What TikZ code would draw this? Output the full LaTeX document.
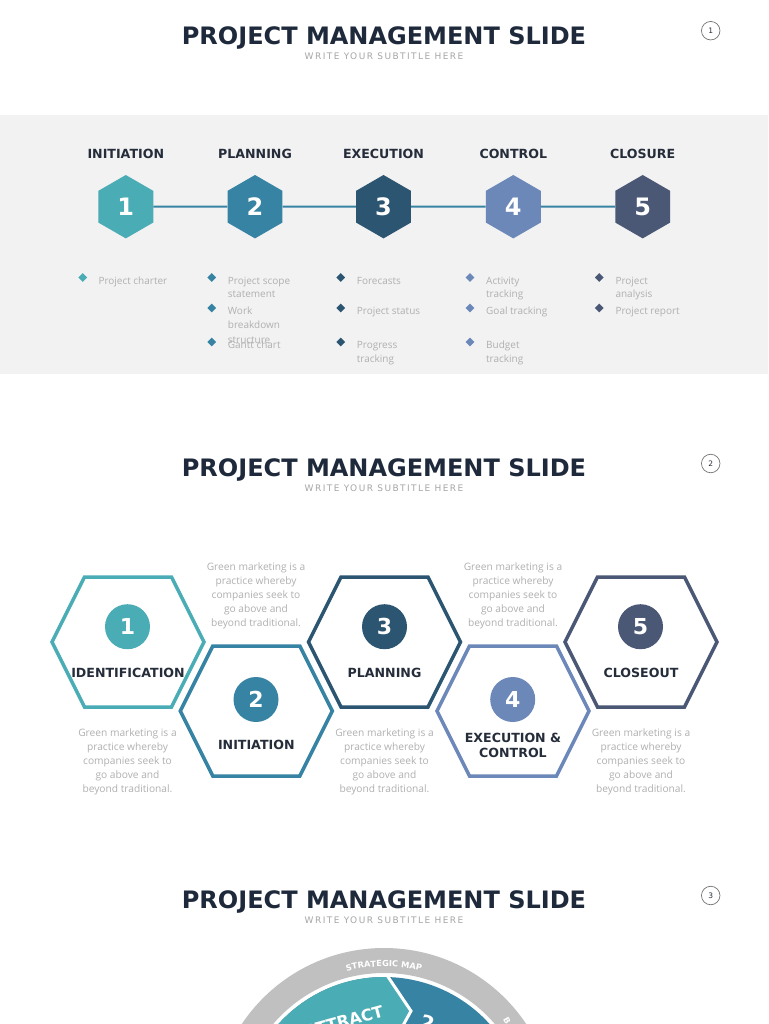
\documentclass[tikz,border=0pt]{standalone}
\usepackage{fontspec}
\setmainfont{DejaVu Sans}
\newfontfamily\opensans{Open Sans}
\newfontfamily\subfont[LetterSpace=16]{DejaVu Sans}
\usetikzlibrary{shapes.geometric,decorations.text}
\definecolor{cA}{HTML}{4AACB4}
\definecolor{cB}{HTML}{3783A3}
\definecolor{cC}{HTML}{2B5571}
\definecolor{cD}{HTML}{6B88B9}
\definecolor{cE}{HTML}{4A5775}
\definecolor{navy}{HTML}{1E2A3B}
\definecolor{labdark}{HTML}{252D3A}
\definecolor{greytxt}{HTML}{B0B0B0}
\definecolor{subgrey}{HTML}{A6A6A6}
\definecolor{bandgrey}{HTML}{F2F2F2}
\definecolor{ringgrey}{HTML}{C0C0C0}
\newcommand\hexpath[2]{({#1-76},#2) -- ({#1-43.5},{#2-65}) -- ({#1+43.5},{#2-65}) -- ({#1+76},#2) -- ({#1+43.5},{#2+65}) -- ({#1-43.5},{#2+65}) -- cycle}
\tikzset{
 title/.style={font=\bfseries\fontsize{24}{28}\selectfont, text=navy, inner sep=0pt},
 subtitle/.style={font=\subfont\fontsize{9}{11}\selectfont, text=subgrey, inner sep=0pt},
 pagenum/.style={circle, draw=black!55, line width=0.7pt, minimum size=18.5pt, inner sep=0pt, font=\fontsize{7.5}{9}\selectfont, text=labdark},
 stagelab/.style={font=\bfseries\fontsize{12.6}{15}\selectfont, text=labdark, inner sep=0pt},
 hexfill/.style={regular polygon, regular polygon sides=6, shape border rotate=30, minimum size=63.4pt, inner sep=0pt, text=white, font=\bfseries\fontsize{24}{28}\selectfont},
 link/.style={cB, line width=2pt},
 bul/.style={diamond, inner sep=0pt, minimum width=9pt, minimum height=9pt},
 btxt/.style={anchor=west, inner sep=0pt, text=greytxt, font=\opensans\fontsize{10}{12}\selectfont, text height=7pt, text depth=2pt},
 hexo/.style={line width=3.5pt, line join=miter},
 numcirc/.style={circle, minimum size=45pt, inner sep=0pt, text=white, font=\bfseries\fontsize{22}{26}\selectfont},
 para/.style={align=center, inner sep=0pt, text=greytxt, font=\opensans\fontsize{10.2}{14}\selectfont},
 hexlab/.style={align=center, inner sep=0pt, text=labdark, font=\bfseries\fontsize{12.6}{15}\selectfont},
}
\begin{document}
\begin{tikzpicture}[x=1pt,y=-1pt]
\clip (0,0) rectangle (768,1024);
\fill[white] (0,0) rectangle (768,1024);
% ================= slide 1
\node[title] (t1) at (384,37.5) {PROJECT MANAGEMENT SLIDE};
\node[subtitle] (s1) at (384,56.5) {WRITE YOUR SUBTITLE HERE};
\node[pagenum] (p1) at (710.7,30.7) {1};
\fill[bandgrey] (0,115) rectangle (768,373.5);
\node[stagelab] (l1) at (125.8,154) {INITIATION};
\node[stagelab] (l2) at (255,154) {PLANNING};
\node[stagelab] (l3) at (383.5,154) {EXECUTION};
\node[stagelab] (l4) at (513.3,154) {CONTROL};
\node[stagelab] (l5) at (642.7,154) {CLOSURE};
\node[hexfill, fill=cA] (h1) at (125.8,206.7) {1};
\node[hexfill, fill=cB] (h2) at (255,206.7) {2};
\node[hexfill, fill=cC] (h3) at (383.5,206.7) {3};
\node[hexfill, fill=cD] (h4) at (513.3,206.7) {4};
\node[hexfill, fill=cE] (h5) at (642.7,206.7) {5};
\draw[link] (h1) -- (h2);
\draw[link] (h2) -- (h3);
\draw[link] (h3) -- (h4);
\draw[link] (h4) -- (h5);
% bullets column 1
\node[bul, fill=cA] (d11) at (82.7,277.5) {};
\node[btxt] (b11) at (98.3,282) {Project charter};
% column 2
\node[bul, fill=cB] (d21) at (211.7,277.5) {};
\node[btxt] (b21) at (227.7,282) {Project scope};
\node[btxt] (b21b) at (227.7,295) {statement};
\node[bul, fill=cB] (d22) at (211.7,308) {};
\node[btxt] (b22) at (227.7,312.3) {Work};
\node[btxt] (b22b) at (227.7,326.3) {breakdown};
\node[btxt] (b22c) at (227.7,340.5) {structure};
\node[bul, fill=cB] (d23) at (211.7,342) {};
\node[btxt] (b23) at (227.7,346.3) {Gantt chart};
% column 3
\node[bul, fill=cC] (d31) at (340.7,277.5) {};
\node[btxt] (b31) at (356.7,282) {Forecasts};
\node[bul, fill=cC] (d32) at (340.7,308) {};
\node[btxt] (b32) at (356.7,312.3) {Project status};
\node[bul, fill=cC] (d33) at (340.7,342) {};
\node[btxt] (b33) at (356.7,346.3) {Progress};
\node[btxt] (b33b) at (356.7,359.7) {tracking};
% column 4
\node[bul, fill=cD] (d41) at (470,277.5) {};
\node[btxt] (b41) at (486,282) {Activity};
\node[btxt] (b41b) at (486,295) {tracking};
\node[bul, fill=cD] (d42) at (470,308) {};
\node[btxt] (b42) at (486,312.3) {Goal tracking};
\node[bul, fill=cD] (d43) at (470,342) {};
\node[btxt] (b43) at (486,346.3) {Budget};
\node[btxt] (b43b) at (486,359.7) {tracking};
% column 5
\node[bul, fill=cE] (d51) at (599.3,277.5) {};
\node[btxt] (b51) at (615.3,282) {Project};
\node[btxt] (b51b) at (615.3,295) {analysis};
\node[bul, fill=cE] (d52) at (599.3,308) {};
\node[btxt] (b52) at (615.3,312.3) {Project report};
% ================= slide 2
\node[title] (t2) at (384,469.5) {PROJECT MANAGEMENT SLIDE};
\node[subtitle] (s2) at (384,488.5) {WRITE YOUR SUBTITLE HERE};
\node[pagenum] (p2) at (710.7,463.5) {2};
\draw[hexo, cA] \hexpath{128}{642};
\draw[hexo, cB] \hexpath{256.3}{711};
\draw[hexo, cC] \hexpath{384.5}{642};
\draw[hexo, cD] \hexpath{513}{711};
\draw[hexo, cE] \hexpath{641}{642};
\node[numcirc, fill=cA] (n1) at (127.5,626.7) {1};
\node[numcirc, fill=cB] (n2) at (256,699.5) {2};
\node[numcirc, fill=cC] (n3) at (384.5,626.7) {3};
\node[numcirc, fill=cD] (n4) at (512.7,699.5) {4};
\node[numcirc, fill=cE] (n5) at (640.5,626.7) {5};
\node[hexlab] (k1) at (128,672.5) {IDENTIFICATION};
\node[hexlab] (k2) at (256.3,744.5) {INITIATION};
\node[hexlab] (k3) at (384.5,672.5) {PLANNING};
\node[hexlab] (k4) at (513,745) {EXECUTION \&\\CONTROL};
\node[hexlab] (k5) at (641,672.5) {CLOSEOUT};
\node[para] (q2) at (256,595.8) {Green marketing is a\\practice whereby\\companies seek to\\go above and\\beyond traditional.};
\node[para] (q4) at (513,595.8) {Green marketing is a\\practice whereby\\companies seek to\\go above and\\beyond traditional.};
\node[para] (q1) at (127.5,762.2) {Green marketing is a\\practice whereby\\companies seek to\\go above and\\beyond traditional.};
\node[para] (q3) at (384.5,762.2) {Green marketing is a\\practice whereby\\companies seek to\\go above and\\beyond traditional.};
\node[para] (q5) at (641,762.2) {Green marketing is a\\practice whereby\\companies seek to\\go above and\\beyond traditional.};
% ================= slide 3
\node[title] (t3) at (384,901.5) {PROJECT MANAGEMENT SLIDE};
\node[subtitle] (s3) at (384,920.5) {WRITE YOUR SUBTITLE HERE};
\node[pagenum] (p3) at (710.7,895.5) {3};
\begin{scope}[shift={(384,1119)}, y=1pt]
  \fill[ringgrey, even odd rule] (0,0) circle[radius=171] (0,0) circle[radius=146];
  \begin{scope}
    \clip (0,0) circle[radius=142];
    \fill[cB] (-150,-150) rectangle (150,150);
    \fill[cA] (-14,169) -- (27,108) -- (11,79) -- (-200,79) -- (-200,169) -- cycle;
    \draw[white, line width=3pt, line join=miter] (-14,169) -- (27,108) -- (11,79);
  \end{scope}
  \path[decorate, decoration={text along path, text={|\bfseries\fontsize{8.3}{10}\selectfont|STRATEGIC MAP}, text align=center, text color=white}]
    (114:152.5) arc[start angle=114, end angle=66, radius=152.5];
\end{scope}
\node[inner sep=0pt, text=white, font=\bfseries\fontsize{16}{19}\selectfont, rotate=15] (w1) at (344,1021) {ATTRACT};
\node[inner sep=0pt, text=white, font=\bfseries\fontsize{20}{24}\selectfont, rotate=-20] (w2) at (428,1023) {2};
\node[inner sep=0pt, text=white, font=\bfseries\fontsize{8.3}{10}\selectfont, rotate=-60] (w3) at (507,1021) {B};
\end{tikzpicture}
\end{document}
